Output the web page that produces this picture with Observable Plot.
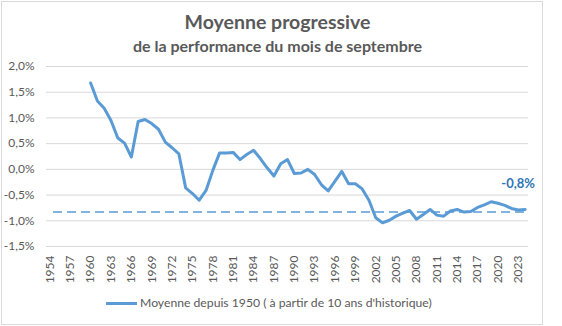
<!DOCTYPE html>
<html>
<head>
<meta charset="utf-8">
<script src="https://cdn.jsdelivr.net/npm/d3@7"></script>
<script src="https://cdn.jsdelivr.net/npm/@observablehq/plot@0.6"></script>
<style>
  body { margin: 0; background: #fff; font-family: Lato, "Open Sans", sans-serif; }
  #wrap { position: relative; width: 562px; height: 326px; overflow: hidden; background: #fff; }
  #frame { position: absolute; left: 1px; top: 1px; width: 542px; height: 324px; border: 1px solid #d9d9d9; box-sizing: border-box; }
  .t { position: absolute; left: 0; width: 555px; text-align: center; color: #595959; font-weight: bold; white-space: nowrap; }
  #t1 { top: 10px; line-height: 24px; font-size: 19.5px; }
  #t2 { top: 36px; line-height: 20px; font-size: 16px; }
  #chart { position: absolute; left: 0; top: 56px; }
  #legend { position: absolute; left: 106px; top: 294px; height: 18px; line-height: 18px; font-size: 12.2px; color: #595959; white-space: nowrap; display: flex; align-items: center; }
  #legend .sw { display: inline-block; width: 31px; height: 3px; background: #5b9bd5; margin-right: 3px; }
</style>
</head>
<body>
<div id="wrap">
  <div id="frame"></div>
  <div class="t" id="t1">Moyenne progressive</div>
  <div class="t" id="t2">de la performance du mois de septembre</div>
  <div id="chart"></div>
  <div id="legend"><span class="sw"></span><span>Moyenne depuis 1950 ( à partir de 10 ans d'historique)</span></div>
</div>
<script>
// Categories on the axis
const firstCategory = 1954;
const lastCategory = 2024;
const tickYears = [1954, 1957, 1960, 1963, 1966, 1969, 1972, 1975, 1978, 1981, 1984, 1987, 1990, 1993, 1996, 1999, 2002, 2005, 2008, 2011, 2014, 2017, 2020, 2023];
const yTicks = [-1.5, -1.0, -0.5, 0.0, 0.5, 1.0, 1.5, 2.0];

// Series: progressive mean (%) of September performance
const years = [1960, 1961, 1962, 1963, 1964, 1965, 1966, 1967, 1968, 1969,
  1970, 1971, 1972, 1973, 1974, 1975, 1976, 1977, 1978, 1979,
  1980, 1981, 1982, 1983, 1984, 1985, 1986, 1987, 1988, 1989,
  1990, 1991, 1992, 1993, 1994, 1995, 1996, 1997, 1998, 1999,
  2000, 2001, 2002, 2003, 2004, 2005, 2006, 2007, 2008, 2009,
  2010, 2011, 2012, 2013, 2014, 2015, 2016, 2017, 2018, 2019,
  2020, 2021, 2022, 2023, 2024];
const values = [1.68, 1.33, 1.19, 0.95, 0.61, 0.51, 0.24, 0.93, 0.97, 0.89,
  0.78, 0.53, 0.42, 0.30, -0.36, -0.47, -0.60, -0.41, -0.02, 0.32,
  0.32, 0.33, 0.19, 0.29, 0.37, 0.21, 0.03, -0.13, 0.11, 0.19,
  -0.08, -0.07, 0.00, -0.10, -0.30, -0.42, -0.23, -0.04, -0.28, -0.28,
  -0.38, -0.60, -0.94, -1.04, -0.99, -0.91, -0.85, -0.80, -0.97, -0.88,
  -0.78, -0.89, -0.91, -0.81, -0.78, -0.83, -0.82, -0.74, -0.69, -0.63,
  -0.66, -0.70, -0.76, -0.79, -0.78];
const referenceLevel = -0.83;
const lastLabel = "-0,8%";

const data = years.map((year, i) => ({year, value: values[i]}));
const lastPoint = data[data.length - 1];
const domain = d3.range(firstCategory, lastCategory + 1);
const fmt = d => d.toFixed(1).replace(".", ",") + "%";

const chart = Plot.plot({
  width: 562,
  height: 234,
  marginLeft: 46,
  marginRight: 34,
  marginTop: 10,
  marginBottom: 44,
  style: {fontFamily: "Lato, 'Open Sans', sans-serif", fontSize: "12px", color: "#595959", background: "transparent"},
  x: {type: "point", domain, padding: 0.5},
  y: {domain: [-1.5, 2.0]},
  marks: [
    Plot.gridY(yTicks, {stroke: "#d9d9d9", strokeOpacity: 1, strokeWidth: 1}),
    Plot.axisY({ticks: yTicks, tickFormat: fmt, tickSize: 0, tickPadding: 12, label: null}),
    Plot.axisX({ticks: tickYears, tickFormat: d => String(d), tickRotate: -90, tickSize: 0, tickPadding: 9, label: null}),
    Plot.ruleY([referenceLevel], {stroke: "#5b9bd5", strokeWidth: 1.5, strokeDasharray: "9,5", insetLeft: 7, insetRight: 1}),
    Plot.line(data, {x: "year", y: "value", stroke: "#5b9bd5", strokeWidth: 3, strokeLinejoin: "round", strokeLinecap: "round"}),
    Plot.text([lastPoint], {x: "year", y: "value", text: () => lastLabel, dy: -26, dx: -7, fill: "#2e75b6", fontWeight: "bold", fontSize: 13})
  ]
});
document.getElementById("chart").appendChild(chart);
</script>
</body>
</html>
